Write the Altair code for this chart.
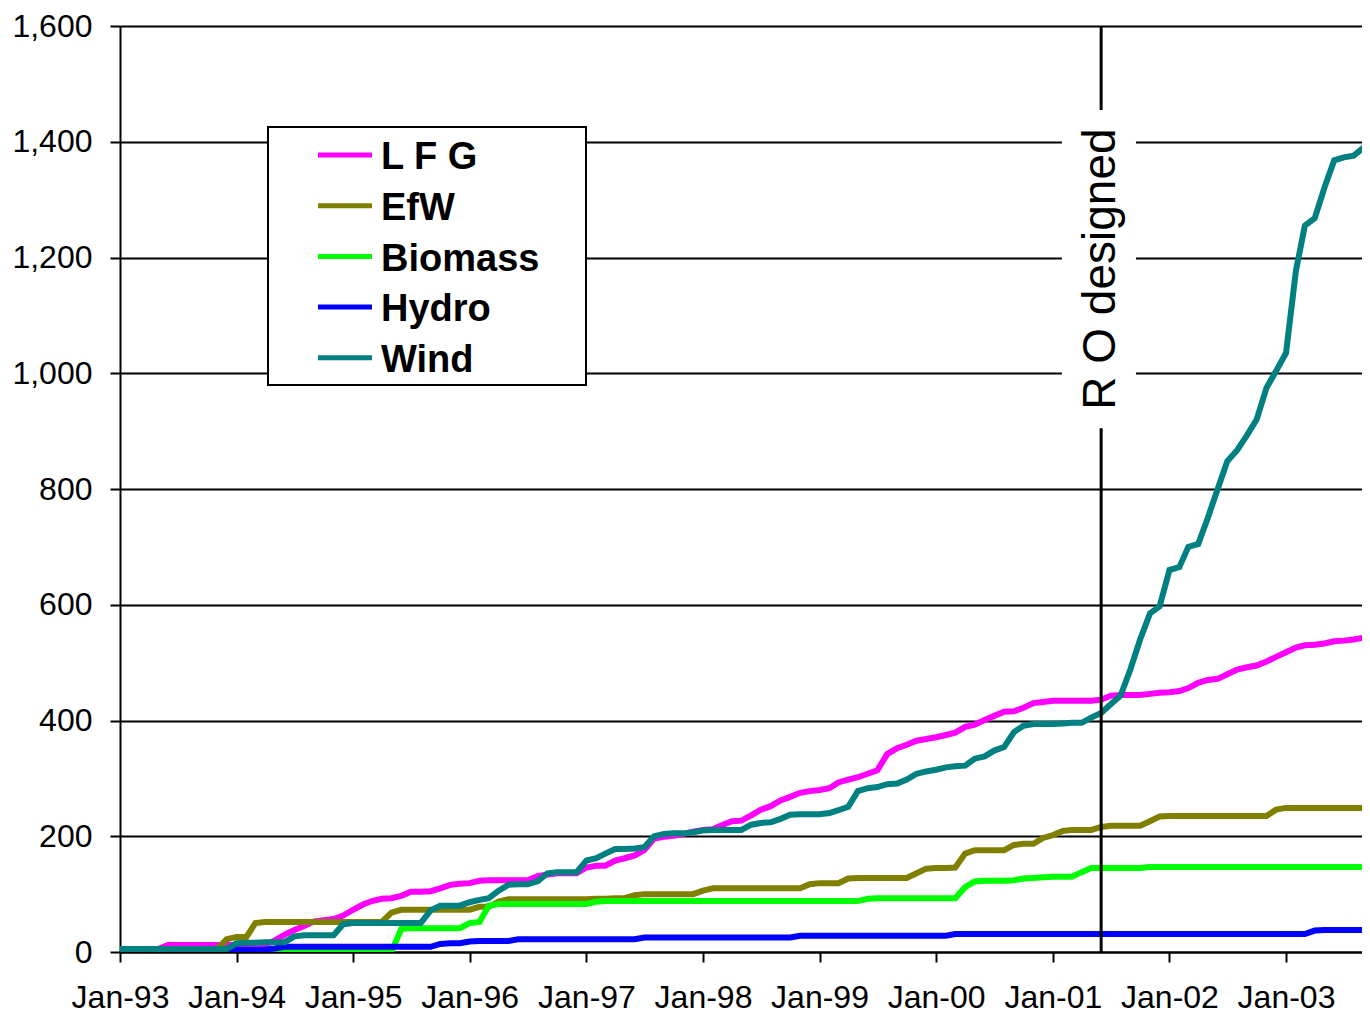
import altair as alt
import pandas as pd

# ---------------- data (MW, cumulative, one value per month from Jan-93) -------------
SERIES = ["L F G", "EfW", "Biomass", "Hydro", "Wind"]
COLORS = ["#FF00FF", "#808000", "#00FF00", "#0000FF", "#008080"]
START_YEAR = 1993

LFG = [
    5, 5, 5, 5, 5, 12, 12, 12, 12, 12, 12, 12,
    12, 12, 12, 12, 20, 30, 38, 45, 53, 55, 57, 63,
    73, 82, 88, 92, 93, 97, 104, 104, 105, 110, 116, 118,
    119, 123, 124, 124, 124, 124, 124, 131, 134, 136, 136, 136,
    146, 149, 149, 158, 162, 167, 176, 196, 199, 201, 204, 208,
    211, 212, 219, 226, 227, 236, 246, 252, 262, 268, 275, 278,
    280, 283, 293, 298, 302, 308, 314, 342, 352, 358, 365, 368,
    371, 375, 379, 389, 393, 401, 408, 415, 416, 422, 430, 432,
    434, 434, 434, 434, 434, 436, 443, 444, 444, 444, 446, 448,
    449, 451, 456, 465, 470, 472, 480, 488, 492, 495, 502, 510,
    518, 526, 530, 531, 533, 537, 538, 540, 543, 546,
]
EFW = [
    5, 5, 5, 5, 5, 5, 5, 5, 5, 5, 5, 22,
    26, 26, 50, 52, 52, 52, 52, 52, 52, 52, 52, 52,
    52, 52, 52, 52, 68, 73, 73, 73, 73, 73, 73, 73,
    73, 78, 78, 87, 91, 91, 91, 91, 91, 91, 91, 91,
    91, 92, 92, 93, 93, 98, 100, 100, 100, 100, 100, 100,
    106, 110, 110, 110, 110, 110, 110, 110, 110, 110, 110, 117,
    119, 119, 119, 127, 128, 128, 128, 128, 128, 128, 136, 144,
    145, 145, 146, 170, 176, 176, 176, 176, 185, 187, 187, 197,
    202, 209, 211, 211, 211, 216, 218, 218, 218, 218, 226, 234,
    235, 235, 235, 235, 235, 235, 235, 235, 235, 235, 235, 246,
    249, 249, 249, 249, 249, 249, 249, 249, 249, 249,
]
BIOMASS = [
    0, 0, 0, 0, 0, 0, 0, 0, 0, 0, 0, 0,
    0, 0, 0, 0, 0, 0, 0, 0, 0, 0, 0, 0,
    0, 0, 0, 0, 0, 40, 41, 41, 41, 41, 41, 41,
    50, 52, 80, 83, 83, 83, 83, 83, 83, 83, 83, 83,
    83, 87, 88, 88, 88, 88, 88, 88, 88, 88, 88, 88,
    88, 88, 88, 88, 88, 88, 88, 88, 88, 88, 88, 88,
    88, 88, 88, 88, 88, 92, 93, 93, 93, 93, 93, 93,
    93, 93, 93, 112, 122, 123, 123, 123, 124, 127, 128, 129,
    130, 130, 130, 138, 145, 145, 145, 145, 145, 145, 147, 147,
    147, 147, 147, 147, 147, 147, 147, 147, 147, 147, 147, 147,
    147, 147, 147, 147, 147, 147, 147, 147, 147, 147,
]
HYDRO = [
    2, 2, 2, 2, 2, 2, 2, 2, 2, 2, 2, 2,
    4, 4, 4, 4, 6, 9, 9, 9, 9, 9, 9, 9,
    9, 9, 9, 9, 9, 9, 9, 9, 9, 14, 15, 15,
    18, 19, 19, 19, 19, 22, 22, 22, 22, 22, 22, 22,
    22, 22, 22, 22, 22, 22, 25, 25, 25, 25, 25, 25,
    25, 25, 25, 25, 25, 25, 25, 25, 25, 25, 28, 28,
    28, 28, 28, 28, 28, 28, 28, 28, 28, 28, 28, 28,
    28, 28, 31, 31, 31, 31, 31, 31, 31, 31, 31, 31,
    31, 31, 31, 31, 31, 31, 31, 31, 31, 31, 31, 31,
    31, 31, 31, 31, 31, 31, 31, 31, 31, 31, 31, 31,
    31, 31, 31, 37, 38, 38, 38, 38, 38, 38,
]
WIND = [
    5, 5, 5, 5, 5, 5, 5, 5, 5, 5, 5, 5,
    15, 16, 16, 17, 17, 17, 27, 29, 29, 29, 29, 48,
    50, 50, 50, 50, 50, 50, 50, 50, 72, 80, 80, 80,
    86, 90, 93, 106, 116, 117, 117, 122, 136, 138, 138, 138,
    158, 162, 170, 178, 178, 179, 181, 200, 204, 205, 205, 207,
    210, 211, 211, 211, 211, 220, 223, 224, 230, 237, 238, 238,
    238, 240, 245, 251, 278, 283, 285, 290, 291, 298, 308, 312,
    315, 319, 321, 322, 334, 338, 348, 354, 380, 391, 394, 394,
    394, 395, 396, 396, 405, 413, 428, 443, 489, 540, 585, 597,
    660, 665, 700, 705, 750, 800, 848, 867, 893, 920, 975, 1004,
    1035, 1177, 1255, 1268, 1320, 1368, 1373, 1376, 1390, 1415,
]

X_TICK_YEARS = list(range(1993, 2004))
Y_TICKS = list(range(0, 1601, 200))

RO_DATE = "2001/06/01"
RO_LABEL = "R O designed"
RO_LABEL_VALUE = 1180
RO_MASK = {"x1": "2001/01/29", "x2": "2001/09/18", "y1": 905, "y2": 1455}

# ---------------- tables built from the arrays ----------------
def month_dates(n):
    return [f"{START_YEAR + i // 12}/{i % 12 + 1:02d}/01" for i in range(n)]

rows = []
for name, vals in zip(SERIES, [LFG, EFW, BIOMASS, HYDRO, WIND]):
    for d, v in zip(month_dates(len(vals)), vals):
        rows.append({"date": d, "series": name, "mw": v})
df = pd.DataFrame(rows)

FONT = "Liberation Sans"

x_scale = alt.Scale(domain=[alt.DateTime(year=1993, month=1, date=1),
                            alt.DateTime(year=2003, month=8, date=27)], nice=False)
y_scale = alt.Scale(domain=[0, 1600], nice=False)

x_axis = alt.Axis(values=[alt.DateTime(year=y, month=1, date=1) for y in X_TICK_YEARS],
                  format="%b-%y", title=None, grid=False, labelAngle=0,
                  labelFlush=False, labelOverlap=False,
                  labelFont=FONT, labelFontSize=32, labelColor="black",
                  labelPadding=20, tickSize=10, tickWidth=2, tickColor="black",
                  domainColor="black", domainWidth=2)
y_axis = alt.Axis(values=Y_TICKS, format=",.0f", title=None, grid=True,
                  gridColor="black", gridWidth=2, gridOpacity=1,
                  labelFont=FONT, labelFontSize=32, labelColor="black",
                  labelPadding=18, tickSize=10, tickWidth=2, tickColor="black",
                  domainColor="black", domainWidth=2)

color = alt.Color("series:N", scale=alt.Scale(domain=SERIES, range=COLORS), legend=None)

line_layers = []
for name in SERIES:
    line_layers.append(
        alt.Chart(df).transform_filter(alt.datum.series == name)
        .mark_line(strokeWidth=6, clip=True)
        .encode(x=alt.X("date:T", scale=x_scale, axis=x_axis),
                y=alt.Y("mw:Q", scale=y_scale, axis=y_axis),
                color=color)
    )

ro_rule = alt.Chart(pd.DataFrame({"date": [RO_DATE]})).mark_rule(
    color="black", strokeWidth=3).encode(
    x=alt.X("date:T", scale=x_scale, axis=x_axis))

ro_mask = alt.Chart(pd.DataFrame([RO_MASK])).mark_rect(color="white", opacity=1).encode(
    x=alt.X("x1:T", scale=x_scale, axis=x_axis), x2="x2:T",
    y=alt.Y("y1:Q", scale=y_scale, axis=y_axis), y2="y2:Q")

ro_text = alt.Chart(pd.DataFrame({"date": [RO_DATE], "v": [RO_LABEL_VALUE], "t": [RO_LABEL]})).mark_text(
    angle=270, fontSize=46, font=FONT, baseline="middle", align="center", color="black").encode(
    x=alt.X("date:T", scale=x_scale, axis=x_axis),
    y=alt.Y("v:Q", scale=y_scale, axis=y_axis),
    text="t:N")

# ---------------- legend box (drawn as an overlay) ----------------
one = pd.DataFrame({"a": [0]})
legend_box = alt.Chart(one).mark_rect(fill="white", stroke="black", strokeWidth=2).encode(
    x=alt.value(148), x2=alt.value(466), y=alt.value(101), y2=alt.value(359))

legend_layers = [legend_box]
ROW = 50.7
for i, (name, col) in enumerate(zip(SERIES, COLORS)):
    legend_layers.append(
        alt.Chart(one).mark_rule(color=col, strokeWidth=5).encode(
            x=alt.value(198), x2=alt.value(252), y=alt.value(129 + ROW * i)))
    legend_layers.append(
        alt.Chart(one).mark_text(text=name, font=FONT, fontWeight="bold", fontSize=38,
                                 align="left", baseline="alphabetic", color="black").encode(
            x=alt.value(261), y=alt.value(143.3 + ROW * i)))

chart = alt.layer(*line_layers, ro_rule, ro_mask, ro_text, *legend_layers).properties(
    width=1242, height=926,
    autosize=alt.AutoSizeParams(type="none"),
    padding={"left": 112, "top": 18, "right": 0, "bottom": 68},
    background="white",
).configure_view(stroke=None)

chart.save("out.html", embed_options={"renderer": "svg", "actions": False})
